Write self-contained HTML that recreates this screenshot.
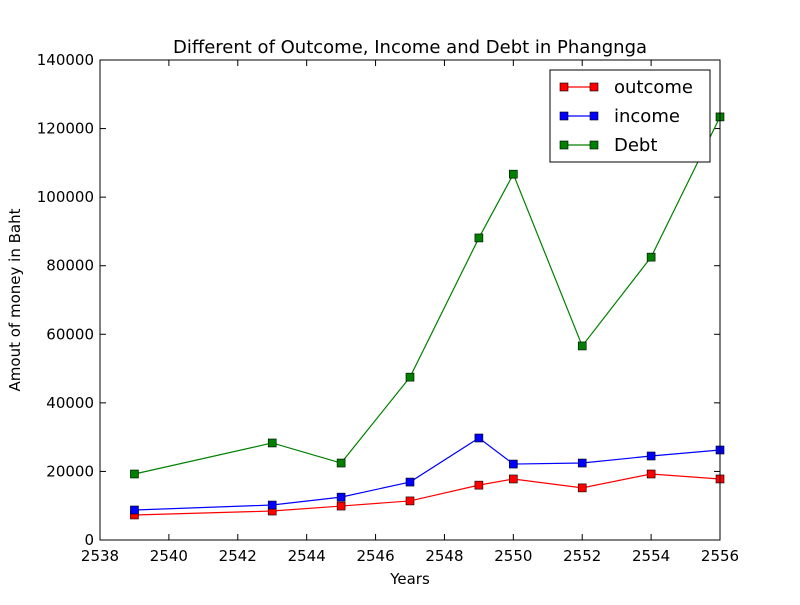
<!DOCTYPE html>
<html><head><meta charset="utf-8"><style>
body{margin:0;background:#fff;}
svg text{font-family:"DejaVu Sans","Liberation Sans",sans-serif;fill:#000;}
</style></head><body>
<svg id="chart" width="800" height="600">
<rect width="800" height="600" fill="#fff"/>
<text x="410" y="53" font-size="18" text-anchor="middle">Different of Outcome, Income and Debt in Phangnga</text>
<text x="410" y="584" font-size="15" text-anchor="middle">Years</text>
<text transform="translate(20,300) rotate(-90)" font-size="15" text-anchor="middle">Amout of money in Baht</text>
<g id="ticks"></g>
<g id="series"></g>
<rect x="100" y="60" width="620" height="480" fill="none" stroke="#000" stroke-width="1"/>
<g id="legend">
<rect x="550" y="70" width="160" height="92" fill="#fff" stroke="#000"/>
</g>
</svg>
<script>
const years=[2539,2543,2545,2547,2549,2550,2552,2554,2556];
const outcome=[7300,8450,9900,11400,16000,17800,15200,19250,17800];
const income=[8750,10200,12500,16900,29750,22150,22450,24500,26250];
const debt=[19250,28300,22450,47500,88100,106700,56600,82500,123400];
const xTicks=[2538,2540,2542,2544,2546,2548,2550,2552,2554,2556];
const yTicks=[0,20000,40000,60000,80000,100000,120000,140000];
const NS="http://www.w3.org/2000/svg";
const X=v=>100+(v-2538)/18*620, Y=v=>540-v/140000*480;
function mk(t,a,p){const e=document.createElementNS(NS,t);for(const k in a)e.setAttribute(k,a[k]);p.appendChild(e);return e;}
const tg=document.getElementById('ticks');
xTicks.forEach(v=>{const x=X(v);
mk('line',{x1:x,x2:x,y1:540,y2:534,stroke:'#000'},tg);mk('line',{x1:x,x2:x,y1:60,y2:66,stroke:'#000'},tg);
const t=mk('text',{x:x,y:561,'font-size':15,'text-anchor':'middle'},tg);t.textContent=v;

});
yTicks.forEach(v=>{const y=Y(v);
mk('line',{x1:100,x2:106,y1:y,y2:y,stroke:'#000'},tg);mk('line',{x1:714,x2:720,y1:y,y2:y,stroke:'#000'},tg);
const t=mk('text',{x:94,y:y+5,'font-size':15,'text-anchor':'end'},tg);t.textContent=v;

});
const sg=document.getElementById('series');
const S=[['outcome',outcome,'#ff0000'],['income',income,'#0000ff'],['Debt',debt,'#008000']];
S.forEach(([n,d,c])=>{
const g=mk('g',{},sg);


mk('polyline',{points:years.map((y,i)=>X(y)+','+Y(d[i])).join(' '),fill:'none',stroke:c,'stroke-width':1.2},g);
years.forEach((y,i)=>{const r=mk('rect',{x:X(y)-4,y:Y(d[i])-4,width:8,height:8,fill:c,stroke:'#000','stroke-width':0.6},g);

});
});
const lg=document.getElementById('legend');
S.forEach(([n,d,c],i)=>{const y=87+i*29;
const g=mk('g',{},lg);


mk('line',{x1:564,x2:594,y1:y,y2:y,stroke:c,'stroke-width':1.2},g);
mk('rect',{x:560,y:y-4,width:8,height:8,fill:c,stroke:'#000','stroke-width':0.6},g);
mk('rect',{x:590,y:y-4,width:8,height:8,fill:c,stroke:'#000','stroke-width':0.6},g);
const t=mk('text',{x:614,y:y+6,'font-size':18},g);t.textContent=n;});
</script>
</body></html>
